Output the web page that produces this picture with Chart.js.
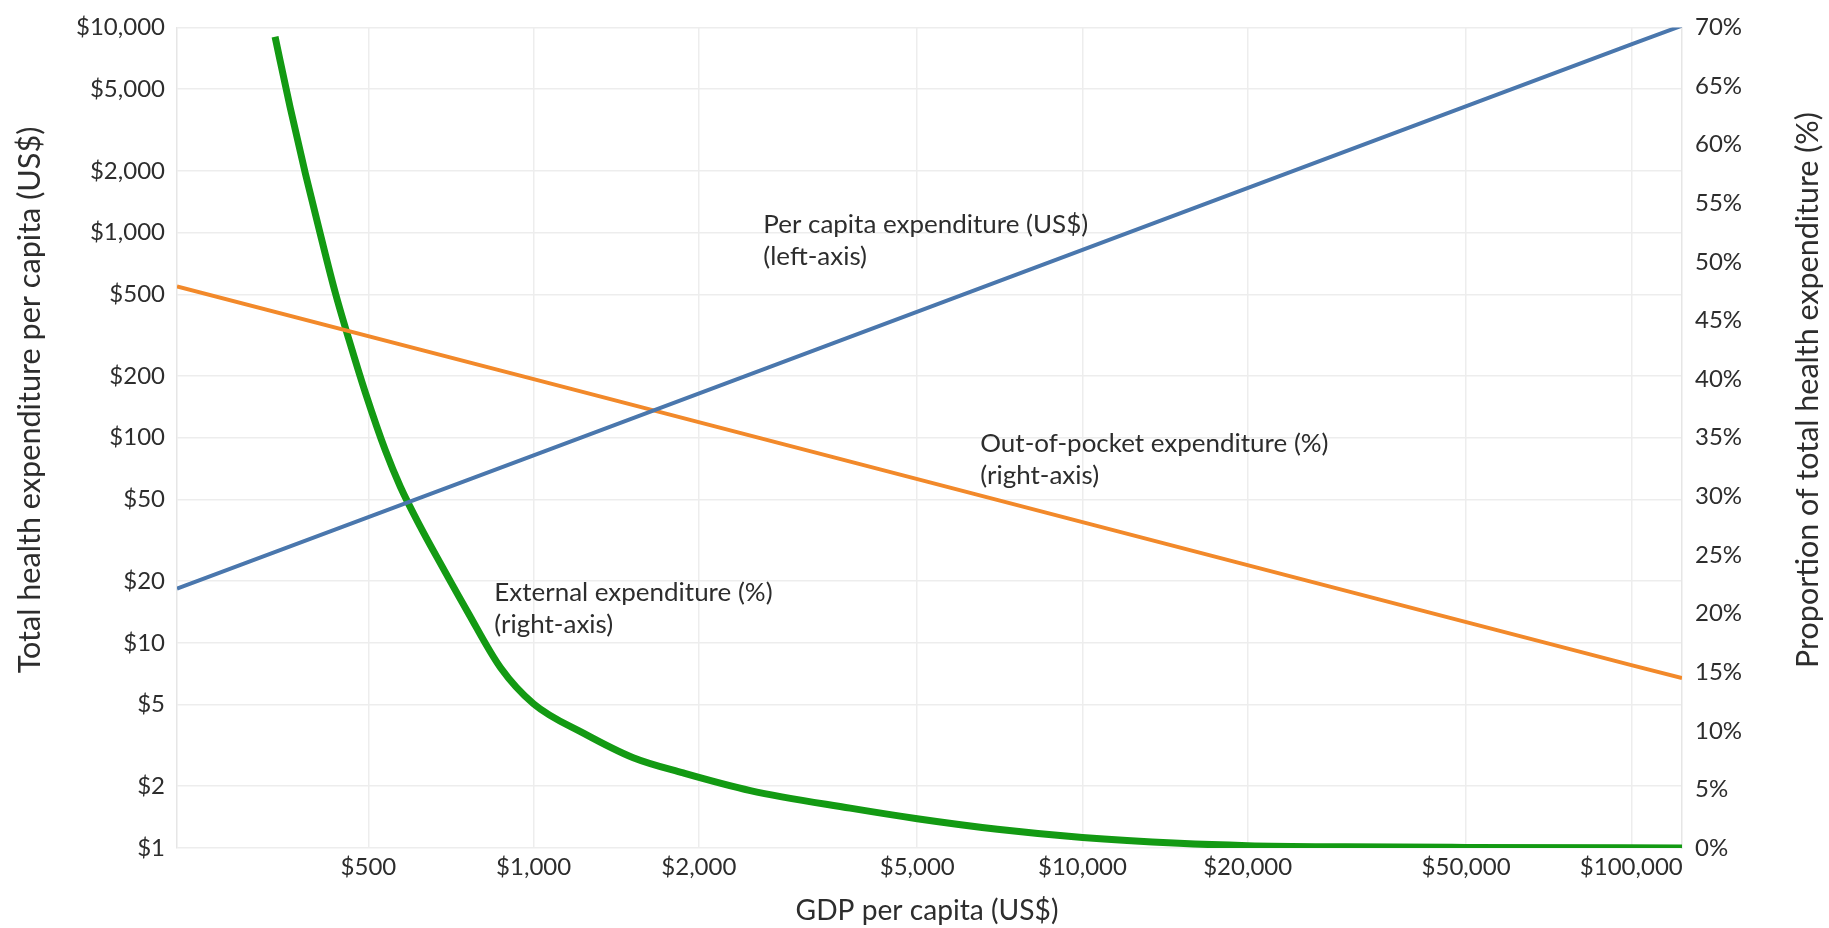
<!DOCTYPE html>
<html>
<head>
<meta charset="utf-8">
<title>Health expenditure and GDP per capita</title>
<script src="https://cdn.jsdelivr.net/npm/chart.js@4.4.1/dist/chart.umd.min.js"></script>
<style>
  html, body { margin: 0; padding: 0; background: #ffffff; }
  #wrap { width: 1829px; height: 928px; position: relative; }
  canvas { display: block; }
</style>
</head>
<body>
<div id="wrap"><canvas id="chart" width="1829" height="928"></canvas></div>
<script>
// GDP per capita (US$) on the shared log x-axis
const gdpTicks = [500, 1000, 2000, 5000, 10000, 20000, 50000, 100000];
// Left axis: health expenditure per capita (US$), log scale
const spendTicks = [1, 2, 5, 10, 20, 50, 100, 200, 500, 1000, 2000, 5000, 10000];

// Per capita expenditure (US$, left axis)
const perCapitaGdp   = [224, 500, 1000, 10000, 100000, 123700];
const perCapitaSpend = [18.4, 41, 82, 823, 8260, 10200];

// Out-of-pocket share of total health expenditure (%, right axis)
const oopGdp   = [224, 1000, 10000, 100000, 123700];
const oopShare = [47.9, 40.0, 27.8, 15.6, 14.5];

// External share of total health expenditure (%, right axis)
const extGdp   = [338, 360, 384, 409, 435, 464, 494, 537, 572, 622, 676, 757, 870, 1000, 1232, 1519, 1874, 2482, 3774, 5000, 7000, 10000, 15000, 20000, 30000, 50000, 123700];
const extShare = [69.2, 63.2, 57.5, 52.3, 47.4, 42.9, 38.8, 33.9, 30.8, 27.4, 24.3, 20.2, 15.4, 12.3, 9.8, 7.7, 6.4, 4.9, 3.4, 2.5, 1.6, 0.9, 0.4, 0.2, 0.1, 0.05, 0];

const pairs = (xs, ys) => xs.map((x, i) => ({ x: x, y: ys[i] }));
const money = v => '$' + Number(v).toLocaleString('en-US');

const FONT = 'Lato, "Open Sans", sans-serif';
const INK = '#2d2d2d';
const GRID = '#ededed';

// Axis titles: text, span width, centre and baseline
const axisTitles = [
  { text: 'GDP per capita (US$)', width: 263, x: 927, y: 911, rotate: false },
  { text: 'Total health expenditure per capita (US$)', width: 547, x: 40, y: 400, rotate: true },
  { text: 'Proportion of total health expenditure (%)', width: 556, x: 1818, y: 390, rotate: true }
];

// Line captions, anchored in data space (GDP, % on right axis)
const captions = [
  { lines: ['Per capita expenditure (US$)', '(left-axis)'], gdp: 2621, pct: 53.2 },
  { lines: ['Out-of-pocket expenditure (%)', '(right-axis)'], gdp: 6513, pct: 34.5 },
  { lines: ['External expenditure (%)', '(right-axis)'], gdp: 848, pct: 21.8 }
];
const captionWidth = 325; // width of the first caption line

// font size at which a string spans the given width
function fitFont(ctx, text, width) {
  ctx.font = '28px ' + FONT;
  return 28 * width / ctx.measureText(text).width;
}

const textPlugin = {
  id: 'chartText',
  afterDatasetsDraw(chart) {
    const ctx = chart.ctx;
    const xs = chart.scales.x, ys = chart.scales.y1;
    ctx.save();
    const size = fitFont(ctx, captions[0].lines[0], captionWidth);
    ctx.font = size + 'px ' + FONT;
    ctx.fillStyle = INK;
    ctx.textAlign = 'left';
    ctx.textBaseline = 'middle';
    captions.forEach(c => {
      const px = xs.getPixelForValue(c.gdp);
      const py = ys.getPixelForValue(c.pct);
      c.lines.forEach((t, i) => ctx.fillText(t, px, py + i * 32));
    });
    ctx.restore();
  },
  afterDraw(chart) {
    const ctx = chart.ctx;
    axisTitles.forEach(t => {
      ctx.save();
      const size = fitFont(ctx, t.text, t.width);
      ctx.translate(t.x, t.y);
      if (t.rotate) ctx.rotate(-Math.PI / 2);
      ctx.font = size + 'px ' + FONT;
      ctx.fillStyle = INK;
      ctx.textAlign = 'center';
      ctx.textBaseline = t.rotate ? 'alphabetic' : 'middle';
      ctx.fillText(t.text, 0, 0);
      ctx.restore();
    });
  }
};

function build() {
  new Chart(document.getElementById('chart'), {
    type: 'line',
    data: {
      datasets: [
        {
          label: 'Per capita expenditure (US$)',
          data: pairs(perCapitaGdp, perCapitaSpend),
          yAxisID: 'y',
          borderColor: '#4a77ad',
          borderWidth: 4,
          pointRadius: 0,
          tension: 0
        },
        {
          label: 'Out-of-pocket expenditure (%)',
          data: pairs(oopGdp, oopShare),
          yAxisID: 'y1',
          borderColor: '#f2892a',
          borderWidth: 4,
          pointRadius: 0,
          tension: 0
        },
        {
          label: 'External expenditure (%)',
          data: pairs(extGdp, extShare),
          yAxisID: 'y1',
          borderColor: '#139a13',
          borderWidth: 7,
          pointRadius: 0,
          cubicInterpolationMode: 'monotone',
          borderCapStyle: 'butt'
        }
      ]
    },
    options: {
      responsive: false,
      animation: false,
      events: [],
      layout: { padding: { top: 25, left: 0, right: 0, bottom: 0 } },
      plugins: {
        legend: { display: false },
        tooltip: { enabled: false }
      },
      scales: {
        x: {
          type: 'logarithmic',
          min: 224,
          max: 123700,
          afterBuildTicks: s => { s.ticks = gdpTicks.map(v => ({ value: v })); },
          afterFit: s => { s.height = 80; },
          ticks: {
            callback: v => money(v),
            font: { family: FONT, size: 24 },
            color: INK,
            maxRotation: 0,
            autoSkip: false,
            padding: 5
          },
          grid: { color: GRID, lineWidth: 1.5, drawTicks: false },
          border: { display: false }
        },
        y: {
          type: 'logarithmic',
          position: 'left',
          min: 1,
          max: 10000,
          afterBuildTicks: s => { s.ticks = spendTicks.map(v => ({ value: v })); },
          afterFit: s => { s.width = 177; },
          ticks: {
            callback: v => money(v),
            font: { family: FONT, size: 24 },
            color: INK,
            autoSkip: false,
            padding: 12
          },
          grid: { color: GRID, lineWidth: 1.5, drawTicks: false },
          border: { display: true, color: '#e6e6e6', width: 1.5 }
        },
        y1: {
          type: 'linear',
          position: 'right',
          min: 0,
          max: 70,
          afterFit: s => { s.width = 147; },
          ticks: {
            stepSize: 5,
            callback: v => v + '%',
            font: { family: FONT, size: 24 },
            color: INK,
            padding: 13
          },
          grid: { display: false, drawTicks: false },
          border: { display: true, color: '#e6e6e6', width: 1.5 }
        }
      }
    },
    plugins: [textPlugin]
  });
}

if (document.fonts && document.fonts.load) {
  document.fonts.load('28px Lato').then(build, build);
} else {
  build();
}
</script>
</body>
</html>
